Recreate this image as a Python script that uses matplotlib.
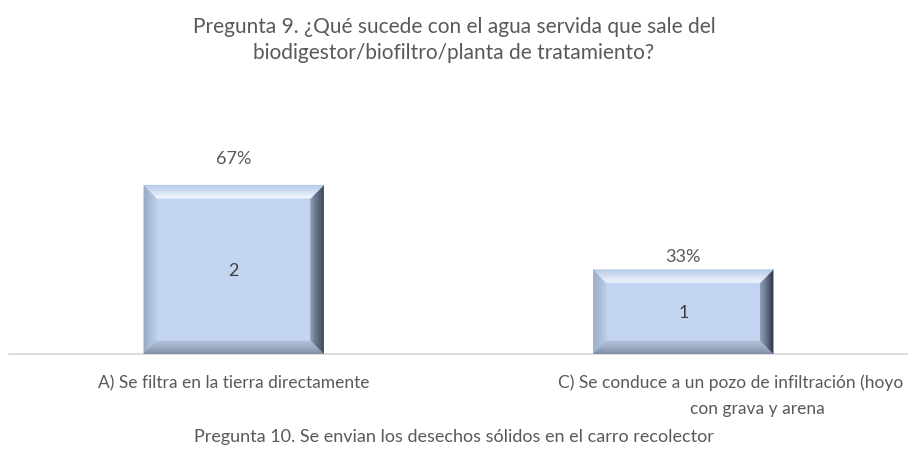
import matplotlib.pyplot as plt
import numpy as np
from matplotlib.patches import Polygon
from matplotlib.colors import to_rgb
from matplotlib.transforms import ScaledTranslation

plt.rcParams['font.family'] = ['Lato', 'DejaVu Sans']

title = "Pregunta 9. ¿Qué sucede con el agua servida que sale del\nbiodigestor/biofiltro/planta de tratamiento?"
next_title = "Pregunta 10. Se envian los desechos sólidos en el carro recolector"
categories = ["A) Se filtra en la tierra directamente",
              "C) Se conduce a un pozo de infiltración (hoyo\ncon grava y arena"]
counts = [2, 1]
percents = ["67%", "33%"]

text_col = '#595959'
face = '#C3D5F0'

fig = plt.figure(figsize=(9.08, 4.64), dpi=100)
ax = fig.add_axes([9 / 908, 1 - 355 / 464, 899 / 908, 255 / 464])

x = list(range(len(categories)))
bars = ax.bar(x, counts, width=0.4, color=face, edgecolor='none', zorder=2)
ax.set_xlim(-0.5, 1.5)
ax.set_ylim(0, 3.02)

for s in ['top', 'right', 'left']:
    ax.spines[s].set_visible(False)
ax.spines['bottom'].set_color('#D9D9D9')
ax.spines['bottom'].set_linewidth(1.3)
ax.set_yticks([])
ax.set_xticks([])

# bevel look: convert pixel widths into data units
fig.canvas.draw()
inv = ax.transData.inverted()
def px2data(dx, dy):
    p0 = inv.transform((0, 0))
    p1 = inv.transform((dx, dy))
    return p1[0] - p0[0], p1[1] - p0[1]

def grad_band(outer, inner, c_out, c_in, n=12):
    # outer = (p,q) outer edge, inner = (r,s) inner edge, draw strips
    c_out, c_in = np.array(to_rgb(c_out)), np.array(to_rgb(c_in))
    p, q = np.array(outer[0]), np.array(outer[1])
    r, s = np.array(inner[0]), np.array(inner[1])
    for k in range(n):
        t0, t1 = k / n, (k + 1) / n
        a0, b0 = p + (r - p) * t0, q + (s - q) * t0
        a1, b1 = p + (r - p) * t1, q + (s - q) * t1
        col = c_out + (c_in - c_out) * (t0 + t1) / 2
        ax.add_patch(Polygon([a0, b0, b1, a1], color=col, lw=0.3, zorder=3))

bw, bh = px2data(13, 13)
for b in bars:
    x0, y0 = b.get_x(), b.get_y()
    x1, y1 = x0 + b.get_width(), y0 + b.get_height()
    grad_band(((x0, y0), (x0, y1)), ((x0 + bw, y0 + bh), (x0 + bw, y1 - bh)), '#98AAC6', '#BCCDE6')
    grad_band(((x1, y0), (x1, y1)), ((x1 - bw, y0 + bh), (x1 - bw, y1 - bh)), '#2F3745', '#8A9BB5')
    grad_band(((x0, y0), (x1, y0)), ((x0 + bw, y0 + bh), (x1 - bw, y0 + bh)), '#7F8DA3', '#B0C0D8')
    grad_band(((x0, y1), (x1, y1)), ((x0 + bw, y1 - bh), (x1 - bw, y1 - bh)), '#B5C8E6', '#F3F8FF')

# labels
pct_offsets = [19, 6]
for b, c, p, off in zip(bars, counts, percents, pct_offsets):
    cx = b.get_x() + b.get_width() / 2
    ax.text(cx, c / 2, str(c), ha='center', va='center', fontsize=13,
            color='#404040', zorder=5)
    ax.annotate(p, (cx, c), xytext=(0, off), textcoords='offset pixels',
                ha='center', va='bottom', fontsize=13, color=text_col)

# category labels (second one is shifted like in the original)
lab_shift = [[0], [47, 74]]
for i, (cat, shifts) in enumerate(zip(categories, lab_shift)):
    lines = cat.split('\n')
    for j, line in enumerate(lines):
        tr = ax.get_xaxis_transform() + ScaledTranslation(shifts[j] / 100, -(28 + 26 * j) / 100, fig.dpi_scale_trans)
        ax.text(i, 0, line, transform=tr, ha='center', va='center',
                fontsize=12.5, color=text_col)

fig.text(0.5, 1 - 40 / 464, title, ha='center', va='center', fontsize=15,
         color=text_col, linespacing=1.4)
fig.text(0.5, 1 - 437 / 464, next_title, ha='center', va='center',
         fontsize=13, color=text_col)

fig.savefig('out.png', dpi=100)
